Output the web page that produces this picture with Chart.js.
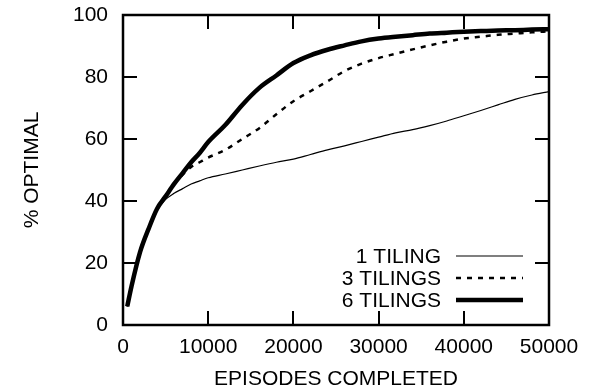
<!DOCTYPE html>
<html>
<head>
<meta charset="utf-8">
<script src="https://cdn.jsdelivr.net/npm/chart.js@4.4.1/dist/chart.umd.min.js"></script>
<style>
  html, body { margin: 0; padding: 0; background: #fff; }
  #wrap { width: 599px; height: 392px; }
</style>
</head>
<body>
<div id="wrap"><canvas id="c" width="599" height="392"></canvas></div>
<script>
// episodes completed (x) and % optimal for each tiling count
const episodes = [500, 1000, 2000, 3000, 4000, 5000, 6000, 7000, 8000, 9000, 10000,
  12000, 14000, 16000, 18000, 20000, 22000, 24000, 26000, 28000, 30000,
  32000, 34000, 36000, 38000, 40000, 42000, 44000, 46000, 48000, 50000];
const tiling1 = [6, 12.5, 23.5, 31, 37, 40.5, 42.5, 44, 45.5, 46.5, 47.5,
  48.7, 50, 51.3, 52.5, 53.5, 55, 56.5, 57.8, 59.2, 60.6,
  62, 63, 64.3, 65.8, 67.5, 69.2, 71, 72.8, 74.2, 75.3];
const tiling3 = [6, 12.5, 23.5, 31, 37.5, 41.5, 45.5, 48.5, 51, 52.5, 54,
  56.5, 60, 63.5, 68, 72.2, 75.4, 78.6, 81.9, 84.3, 86.1,
  87.5, 88.9, 90.2, 91.4, 92.4, 93, 93.6, 94, 94.4, 94.7];
const tiling6 = [6, 12.5, 23.5, 31, 37.5, 41.5, 45.5, 49, 52.5, 55.5, 59,
  64.5, 71, 76.5, 80.5, 84.5, 87, 88.8, 90.2, 91.5, 92.4,
  93, 93.5, 94, 94.3, 94.6, 94.8, 95, 95.1, 95.3, 95.4];
const seriesNames = ['1 TILING', '3 TILINGS', '6 TILINGS'];
const xTicks = [0, 10000, 20000, 30000, 40000, 50000];
const yTicks = [0, 20, 40, 60, 80, 100];

const FONT = { family: '"Liberation Sans", Arial, sans-serif', size: 21 };

function pts(ys) {
  return episodes.map((x, i) => ({ x: x, y: ys[i] }));
}

// frame, inner (mirrored) ticks and the key, gnuplot style
const framePlugin = {
  id: 'frame',
  afterDatasetsDraw(chart) {
    const ctx = chart.ctx;
    const a = chart.chartArea;
    const sx = chart.scales.x, sy = chart.scales.y;
    const tl = 14;
    ctx.save();
    ctx.strokeStyle = '#000';
    ctx.lineWidth = 2;
    ctx.beginPath();
    xTicks.forEach(v => {
      const px = Math.round(sx.getPixelForValue(v));
      ctx.moveTo(px, a.bottom); ctx.lineTo(px, a.bottom - tl);
      ctx.moveTo(px, a.top); ctx.lineTo(px, a.top + tl);
    });
    yTicks.forEach(v => {
      const py = Math.round(sy.getPixelForValue(v));
      ctx.moveTo(a.left, py); ctx.lineTo(a.left + tl, py);
      ctx.moveTo(a.right, py); ctx.lineTo(a.right - tl, py);
    });
    ctx.stroke();
    ctx.lineWidth = 2.5;
    ctx.strokeRect(a.left, a.top, a.right - a.left, a.bottom - a.top);

    // key
    ctx.font = FONT.size + 'px ' + FONT.family;
    ctx.fillStyle = '#000';
    ctx.textAlign = 'right';
    ctx.textBaseline = 'middle';
    const rows = [256, 278, 300];
    chart.data.datasets.forEach((ds, i) => {
      ctx.fillText(ds.label, 441, rows[i] + 1);
      ctx.beginPath();
      ctx.lineWidth = ds.borderWidth;
      ctx.setLineDash(ds.borderDash || []);
      ctx.moveTo(456, rows[i]);
      ctx.lineTo(523, rows[i]);
      ctx.stroke();
    });
    ctx.restore();
  }
};

new Chart(document.getElementById('c'), {
  type: 'line',
  data: {
    datasets: [
      { label: seriesNames[0], data: pts(tiling1), borderColor: '#000', borderWidth: 1.2, pointRadius: 0, cubicInterpolationMode: 'monotone' },
      { label: seriesNames[1], data: pts(tiling3), borderColor: '#000', borderWidth: 2.5, borderDash: [5, 6], pointRadius: 0, cubicInterpolationMode: 'monotone' },
      { label: seriesNames[2], data: pts(tiling6), borderColor: '#000', borderWidth: 4.5, pointRadius: 0, cubicInterpolationMode: 'monotone' }
    ]
  },
  options: {
    responsive: false,
    animation: false,
    layout: { padding: { left: 0, right: 50, top: 15, bottom: 0 } },
    plugins: { legend: { display: false }, tooltip: { enabled: false } },
    scales: {
      x: {
        type: 'linear', min: 0, max: 50000,
        afterBuildTicks: s => { s.ticks = xTicks.map(v => ({ value: v })); },
        afterFit: s => { s.height = 67; s.paddingLeft = 0; s.paddingRight = 0; },
        grid: { display: false, drawTicks: false },
        border: { display: false },
        ticks: { color: '#000', font: FONT, padding: 10, maxRotation: 0, autoSkip: false, callback: v => String(v) },
        title: { display: true, text: 'EPISODES COMPLETED', color: '#000', font: FONT, padding: { top: 0, bottom: 0 } }
      },
      y: {
        type: 'linear', min: 0, max: 100,
        afterBuildTicks: s => { s.ticks = yTicks.map(v => ({ value: v })); },
        afterFit: s => { s.width = 123; s.paddingTop = 0; s.paddingBottom = 0; },
        grid: { display: false, drawTicks: false },
        border: { display: false },
        ticks: { color: '#000', font: FONT, padding: 15, callback: v => String(v) },
        title: { display: true, text: '% OPTIMAL', color: '#000', font: FONT, padding: { top: 20, bottom: 0 } }
      }
    }
  },
  plugins: [framePlugin]
});
</script>
</body>
</html>
